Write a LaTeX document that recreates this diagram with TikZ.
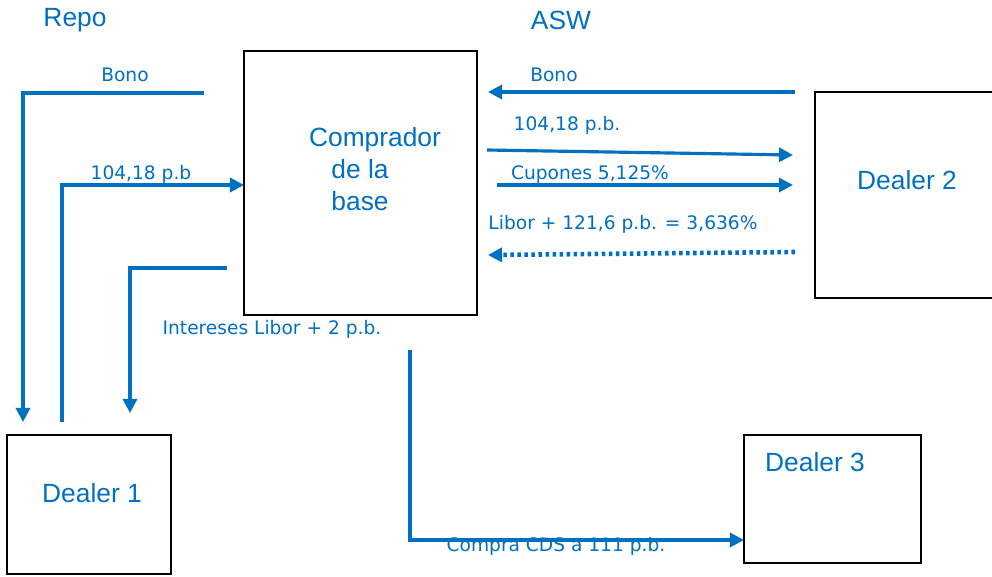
\documentclass[tikz,border=0pt]{standalone}
\usepackage{fontspec}
\setmainfont{Liberation Sans}
\newfontfamily\etiqfont{DejaVu Sans}
\usepackage{tikz}
\usetikzlibrary{arrows.meta}
\definecolor{azul}{RGB}{0,112,192}
\tikzset{
  caja/.style = {draw=black, line width=1.1pt, rectangle, inner sep=0pt},% cajas de las contrapartes
  nombre/.style = {azul, font=\fontsize{15}{18}\selectfont, align=center},% texto grande
  etiq/.style = {azul, font=\etiqfont\fontsize{10.6}{12}\selectfont},% texto de flujos
  flujo/.style = {draw=azul, line width=1.8pt,
    -{Triangle[length=8pt,width=8pt]}},% flujo continuo
  flujop/.style = {flujo, line width=2.6pt, dash pattern=on 2pt off 2pt}% flujo punteado
}

\begin{document}
\begin{tikzpicture}[x=0.02cm, y=-0.02cm]
\useasboundingbox (0,0) rectangle (992,576);

% cajas
\node [caja, minimum width=4.66cm, minimum height=5.28cm] (comprador) at (360.5,183) {};
\node [caja, minimum width=3.28cm, minimum height=2.78cm] (dealeruno) at (89,504.5) {};
\node [caja, minimum width=3.70cm, minimum height=4.12cm] (dealerdos) at (907.5,195) {};
\node [caja, minimum width=3.54cm, minimum height=2.56cm] (dealertres) at (832.5,499) {};

\node [nombre] (tcomprador) at (375,169) {Comprador\\de la\makebox[17pt]{}\\base\makebox[17pt]{}};
\node [nombre] (tdealeruno) at (92,493) {Dealer 1};
\node [nombre] (tdealerdos) at (907,180) {Dealer 2};
\node [nombre] (tdealertres) at (815,462) {Dealer 3};
\node [nombre] (repo) at (75,20) {Repo};
\node [nombre] (asw) at (561,20) {ASW};

% extremos de los flujos
\coordinate (bonouno) at (204,93);
\coordinate (bonounofin) at (23,422);
\coordinate (pagouno) at (62,422);
\coordinate (pagounofin) at (244,185);
\coordinate (interes) at (227,268);
\coordinate (interesfin) at (130,413);
\coordinate (bonodos) at (795,92);
\coordinate (bonodosfin) at (488,92);
\coordinate (pagodos) at (487,150);
\coordinate (pagodosfin) at (793,155);
\coordinate (cupon) at (497,185);
\coordinate (cuponfin) at (793,185);
\coordinate (libor) at (795,252);
\coordinate (liborfin) at (488,255);
\coordinate (cds) at (410,350);
\coordinate (cdsfin) at (744,540);

% repo con el dealer 1
\draw [flujo] (bonouno) -| (bonounofin);
\draw [flujo] (pagouno) |- (pagounofin);
\draw [flujo] (interes) -| (interesfin);
\node [etiq] (lbonouno) at (125,75) {Bono};
\node [etiq] (lpagouno) at (141,174) {104,18 p.b};
\node [etiq] (linteres) at (272,329) {Intereses Libor + 2 p.b.};

% asset swap con el dealer 2
\draw [flujo] (bonodos) -- (bonodosfin);
\draw [flujo] (pagodos) -- (pagodosfin);
\draw [flujo] (cupon) -- (cuponfin);
\draw [flujop] (libor) -- (liborfin);
\node [etiq] (lbonodos) at (554,75) {Bono};
\node [etiq] (lpagodos) at (567,125) {104,18 p.b.};
\node [etiq] (lcupon) at (590,175) {Cupones 5,125\%};
\node [etiq] (llibor) at (623,224) {Libor + 121,6 p.b. = 3,636\%};

% CDS con el dealer 3
\draw [flujo] (cds) |- (cdsfin);
\node [etiq] (lcds) at (556,546) {Compra CDS a 111 p.b.};
\end{tikzpicture}
\end{document}
